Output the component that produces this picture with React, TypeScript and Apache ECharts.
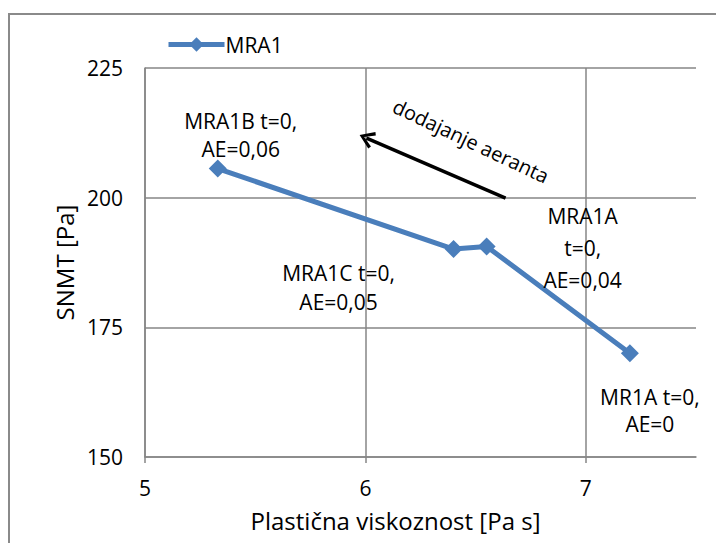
import React, { useEffect, useRef } from "react";
import * as echarts from "echarts";

const seriesName = "MRA1";
const xValues = [5.33, 6.4, 6.55, 7.2];
const yValues = [205.6, 190.1, 190.6, 170.0];
const pointLabels = [
  "MRA1B t=0,\nAE=0,06",
  "MRA1C t=0,\nAE=0,05",
  "MRA1A\nt=0,\nAE=0,04",
  "MR1A t=0,\nAE=0",
];
const xAxisName = "Plastična viskoznost [Pa s]";
const yAxisName = "SNMT [Pa]";
const arrowText = "dodajanje aeranta";
const arrowFrom = [6.636, 199.9];
const arrowTo = [6.005, 211.5];

const FONT = "Open Sans";
const labelOffsets = [
  [23, -34],
  [-115, 38],
  [96, 2],
  [20, 57],
];
const labelLineHeights = [28, 29, 32, 27];

export default function App() {
  const ref = useRef<HTMLDivElement>(null);
  useEffect(() => {
    document.body.style.margin = "0";
    if (!ref.current) return;
    const chart = echarts.init(ref.current, null, { renderer: "svg" });
    const data = xValues.map((x, i) => ({
      value: [x, yValues[i]],
      label: {
        show: true,
        formatter: pointLabels[i],
        position: "inside",
        offset: labelOffsets[i],
        align: "center",
        verticalAlign: "middle",
        lineHeight: labelLineHeights[i],
        fontSize: 21,
        fontFamily: FONT,
        color: "#000",
      },
    }));
    chart.setOption({
      animation: false,
      backgroundColor: "#fff",
      textStyle: { fontFamily: FONT },
      grid: { left: 145, top: 68, right: 20, bottom: 86, containLabel: false },
      legend: {
        left: 161,
        top: 29,
        itemWidth: 56,
        itemHeight: 18,
        itemGap: 4,
        lineStyle: { width: 5 },
        textStyle: { fontSize: 21, fontFamily: FONT, color: "#000", padding: [0, 0, 0, -4] },
        data: [seriesName],
      },
      xAxis: {
        type: "value",
        min: 5,
        max: 7.5,
        interval: 1,
        name: xAxisName,
        nameLocation: "middle",
        nameGap: 51,
        nameTextStyle: { fontSize: 24, fontFamily: FONT, color: "#000", padding: [0, 50, 0, 0] },
        axisLine: { show: true, lineStyle: { color: "#868686", width: 1.5 } },
        axisTick: { show: true, length: 6, lineStyle: { color: "#868686", width: 1.5 } },
        axisLabel: { fontSize: 21, fontFamily: FONT, color: "#000", margin: 20, showMaxLabel: false },
        splitLine: { show: true, showMaxLine: false, lineStyle: { color: "#868686", width: 1.5 } },
      },
      yAxis: {
        type: "value",
        min: 150,
        max: 225,
        interval: 25,
        name: yAxisName,
        nameLocation: "middle",
        nameGap: 69,
        nameRotate: 90,
        nameTextStyle: { fontSize: 24, fontFamily: FONT, color: "#000" },
        axisLine: { show: true, lineStyle: { color: "#868686", width: 1.5 } },
        axisTick: { show: false },
        axisLabel: { fontSize: 21, fontFamily: FONT, color: "#000", margin: 22 },
        splitLine: { show: true, lineStyle: { color: "#868686", width: 1.5 } },
      },
      graphic: [
        {
          type: "rect",
          shape: { x: 9, y: 14, width: 740, height: 560 },
          style: { fill: "none", stroke: "#8a8a8a", lineWidth: 2 },
          silent: true,
        },
        {
          type: "text",
          x: 471,
          y: 141,
          rotation: -0.44,
          silent: true,
          style: {
            text: arrowText,
            fontSize: 20,
            fontFamily: FONT,
            fill: "#000",
            align: "center",
            verticalAlign: "middle",
          },
        },
      ],
      series: [
        {
          name: seriesName,
          type: "line",
          data,
          symbol: "diamond",
          symbolSize: 18,
          lineStyle: { color: "#4a7ebb", width: 5 },
          itemStyle: { color: "#4a7ebb" },
          markLine: {
            silent: true,
            symbol: ["none", "path://M5,0 L10,8 L8.4,9 L5,3 L1.6,9 L0,8 Z"],
            symbolSize: [18, 15],
            lineStyle: { color: "#000", width: 3.5, type: "solid" },
            label: { show: false },
            data: [
              [
                { coord: arrowFrom },
                { coord: arrowTo },
              ],
            ],
          },
        },
      ],
    });
    return () => chart.dispose();
  }, []);
  return <div ref={ref} style={{ width: 716, height: 543 }} />;
}
